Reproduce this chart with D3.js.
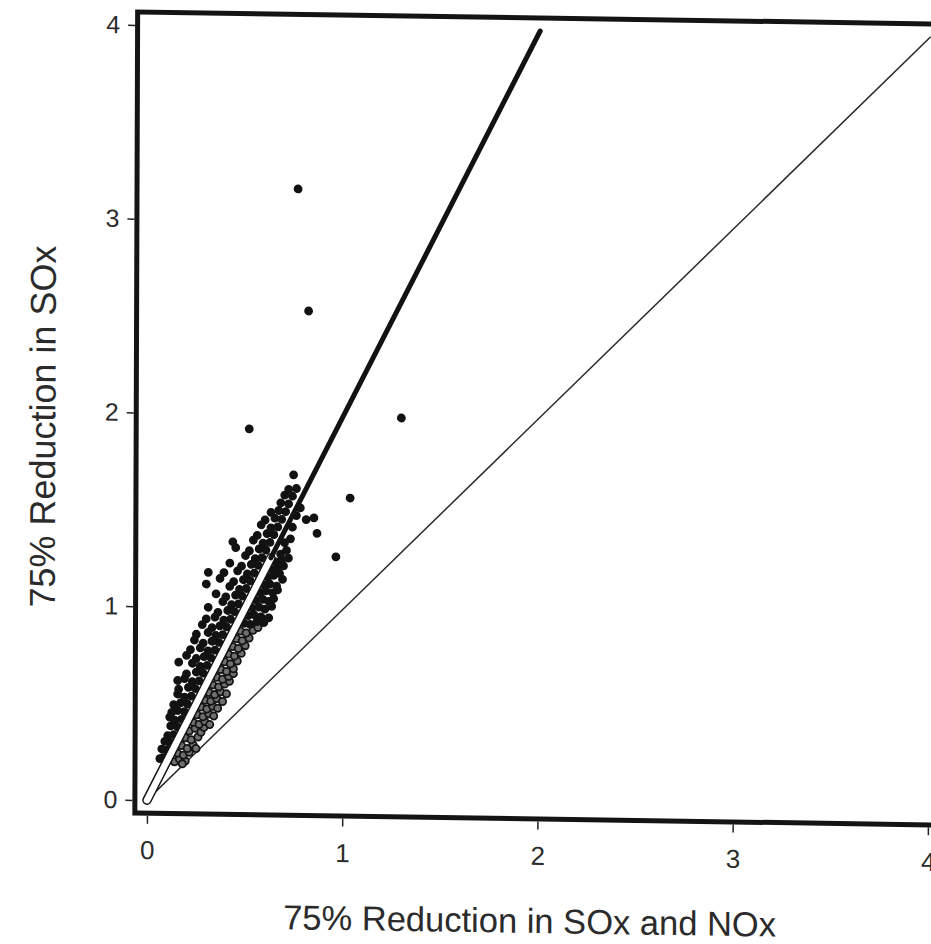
<!DOCTYPE html>
<html>
<head>
<meta charset="utf-8">
<script src="https://cdn.jsdelivr.net/npm/d3@7"></script>
<style>
  html, body { margin: 0; padding: 0; background: #fff; }
  svg { display: block; }
  text { font-family: "Liberation Sans", Arial, Helvetica, sans-serif; fill: #2b2b2b; }
</style>
</head>
<body>
<svg id="chart" width="931" height="944"></svg>
<script>
// Axis ticks
const xTicks = [0, 1, 2, 3, 4];
const yTicks = [0, 1, 2, 3, 4];
const xTitle = "75% Reduction in SOx and NOx";
const yTitle = "75% Reduction in SOx";

// Reference lines: ratio-2 fit and 1:1 parity
const fitLine = [[0, 0], [2, 4]];
const parityLine = [[0, 0], [4, 4]];
// cleared lane along the lower part of the fit line
const fitLane = [[0, 0], [0.63, 1.26]];

// Sites below the fit line, low range (open markers)
const openSites = [
  [0.14,0.20],[0.165,0.215],[0.195,0.205],[0.18,0.19],
  [0.155,0.245],[0.185,0.235],[0.215,0.25],
  [0.175,0.285],[0.205,0.27],[0.235,0.29],[0.25,0.27],
  [0.195,0.325],[0.225,0.315],[0.26,0.33],
  [0.215,0.36],[0.245,0.375],[0.275,0.355],[0.29,0.38],
  [0.235,0.405],[0.265,0.395],[0.295,0.41],[0.32,0.395],
  [0.255,0.445],[0.285,0.435],[0.315,0.45],[0.34,0.44],
  [0.275,0.485],[0.305,0.475],[0.335,0.49],[0.36,0.48],
  [0.295,0.52],[0.325,0.515],[0.355,0.53],[0.385,0.515],
  [0.315,0.56],[0.345,0.55],[0.375,0.565],[0.405,0.555],
  [0.335,0.6],[0.365,0.59],[0.395,0.605],[0.42,0.62],
  [0.355,0.64],[0.385,0.63],[0.415,0.645],[0.44,0.66],
  [0.375,0.68],[0.405,0.67],[0.44,0.685],
  [0.395,0.72],[0.425,0.71],[0.46,0.725],
  [0.415,0.76],[0.445,0.75],[0.48,0.765],
  [0.435,0.8],[0.465,0.79],[0.5,0.805],
  [0.455,0.84],[0.485,0.83],[0.52,0.845],
  [0.475,0.88],[0.505,0.87],[0.54,0.885],[0.565,0.9]
];

// Sites below the fit line, upper range (filled markers)
const lowerSites = [
  [0.495,0.92],[0.525,0.915],[0.56,0.93],[0.595,0.925],
  [0.515,0.96],[0.545,0.965],[0.58,0.955],[0.62,0.95],
  [0.535,1.0],[0.57,1.005],[0.6,0.995],[0.635,1.01],
  [0.555,1.04],[0.59,1.045],[0.62,1.035],[0.645,1.05],
  [0.575,1.08],[0.605,1.09],[0.64,1.08],[0.665,1.095],
  [0.595,1.12],[0.625,1.125],[0.66,1.115],[0.69,1.15],
  [0.615,1.16],[0.645,1.17],[0.675,1.18],
  [0.635,1.2],[0.665,1.21],[0.695,1.22],
  [0.655,1.24],[0.685,1.25],[0.72,1.26],
  [0.68,1.28],[0.71,1.3],[0.7,1.34],[0.73,1.36],
  [0.74,1.42],[0.76,1.48],[0.78,1.52]
];

// Sites above the fit line (filled markers)
const upperSites = [
  [0.08,0.22],[0.065,0.215],
  [0.1,0.26],[0.075,0.265],
  [0.115,0.3],[0.09,0.305],
  [0.135,0.34],[0.105,0.335],
  [0.155,0.38],[0.12,0.385],
  [0.175,0.42],[0.14,0.415],[0.115,0.43],
  [0.19,0.46],[0.155,0.465],[0.125,0.455],
  [0.205,0.5],[0.17,0.505],[0.135,0.495],
  [0.225,0.54],[0.19,0.535],[0.155,0.55],
  [0.245,0.58],[0.21,0.585],[0.16,0.575],
  [0.265,0.62],[0.23,0.615],[0.19,0.63],[0.155,0.62],
  [0.285,0.66],[0.25,0.665],[0.2,0.655],
  [0.305,0.7],[0.27,0.695],[0.23,0.71],[0.16,0.715],
  [0.325,0.74],[0.29,0.745],[0.25,0.735],[0.2,0.75],
  [0.345,0.78],[0.31,0.775],[0.27,0.79],[0.22,0.78],
  [0.365,0.82],[0.33,0.825],[0.285,0.815],[0.24,0.83],
  [0.385,0.86],[0.35,0.855],[0.31,0.87],[0.25,0.86],
  [0.405,0.9],[0.37,0.905],[0.33,0.895],[0.28,0.91],
  [0.425,0.94],[0.39,0.935],[0.345,0.95],[0.3,0.94],
  [0.445,0.98],[0.41,0.985],[0.36,0.975],
  [0.465,1.02],[0.43,1.015],[0.385,1.03],[0.31,1.0],
  [0.485,1.06],[0.45,1.065],[0.4,1.055],[0.35,1.07],
  [0.505,1.1],[0.47,1.095],[0.42,1.11],
  [0.525,1.14],[0.49,1.145],[0.44,1.135],[0.37,1.15],[0.3,1.12],
  [0.545,1.18],[0.51,1.175],[0.46,1.19],[0.39,1.18],[0.31,1.18],
  [0.565,1.22],[0.53,1.225],[0.48,1.215],[0.42,1.23],
  [0.585,1.26],[0.55,1.255],[0.5,1.27],
  [0.605,1.3],[0.57,1.305],[0.52,1.295],[0.45,1.31],
  [0.625,1.34],[0.59,1.335],[0.54,1.35],[0.435,1.34],
  [0.645,1.38],[0.61,1.385],[0.56,1.375],
  [0.665,1.42],[0.63,1.415],[0.58,1.43],
  [0.685,1.46],[0.65,1.465],[0.6,1.455],
  [0.705,1.5],[0.67,1.505],[0.63,1.495],
  [0.72,1.54],[0.68,1.545],
  [0.74,1.58],[0.7,1.585],
  [0.76,1.62],[0.72,1.615],
  [0.745,1.69]
];

// Isolated sites away from the main band
const outlierSites = [
  [0.763,3.166],[0.819,2.537],[0.517,1.924],[1.296,1.992],
  [1.035,1.575],[0.963,1.27],[0.81,1.46],[0.85,1.47],[0.866,1.39]
];

const svg = d3.select("#chart");

const x = d3.scaleLinear().domain([0, 4]).range([147, 928]);
const y = d3.scaleLinear().domain([0, 4]).range([800, 25]);

// plot frame bounds (data units)
const frameX = [-0.062, 4.07];
const frameY = [-0.067, 4.067];

// the printed page sits slightly skewed
const root = svg.append("g")
  .attr("transform",
    "translate(0,800) skewX(-0.2) translate(0,-800) translate(137,0) skewY(0.86) translate(-137,0)");

const clipId = "plotclip";
root.append("clipPath").attr("id", clipId)
  .append("rect")
  .attr("x", x(frameX[0])).attr("y", y(frameY[1]))
  .attr("width", x(frameX[1]) - x(frameX[0]))
  .attr("height", y(frameY[0]) - y(frameY[1]));

const plot = root.append("g").attr("clip-path", `url(#${clipId})`);

const line = d3.line().x(d => x(d[0])).y(d => y(d[1]));

// 1:1 parity line
plot.append("path")
  .attr("d", line(parityLine))
  .attr("fill", "none")
  .attr("stroke", "#2a2a2a")
  .attr("stroke-width", 1.5);

const R = 4.4;

// open markers
plot.append("g").selectAll("circle")
  .data(openSites)
  .join("circle")
  .attr("cx", d => x(d[0]))
  .attr("cy", d => y(d[1]))
  .attr("r", R - 0.8)
  .attr("fill", "#6f6f6f")
  .attr("stroke", "#141414")
  .attr("stroke-width", 1.8);

// filled markers
plot.append("g").selectAll("circle")
  .data(lowerSites.concat(upperSites, outlierSites))
  .join("circle")
  .attr("cx", d => x(d[0]))
  .attr("cy", d => y(d[1]))
  .attr("r", R)
  .attr("fill", "#121212");

// cleared lane along the fit line near the origin
plot.append("path")
  .attr("d", line(fitLane))
  .attr("fill", "none")
  .attr("stroke", "#141414")
  .attr("stroke-width", 9.5)
  .attr("stroke-linecap", "round");
plot.append("path")
  .attr("d", line(fitLane))
  .attr("fill", "none")
  .attr("stroke", "#fff")
  .attr("stroke-width", 6.5)
  .attr("stroke-linecap", "round");

// ratio-2 fit line (solid above the lane)
plot.append("path")
  .attr("d", line([fitLane[1], fitLine[1]]))
  .attr("fill", "none")
  .attr("stroke", "#121212")
  .attr("stroke-width", 5)
  .attr("stroke-linecap", "round");

// frame
root.append("rect")
  .attr("x", x(frameX[0])).attr("y", y(frameY[1]))
  .attr("width", x(frameX[1]) - x(frameX[0]))
  .attr("height", y(frameY[0]) - y(frameY[1]))
  .attr("fill", "none")
  .attr("stroke", "#141414")
  .attr("stroke-width", 5);

// x axis
const xAxis = root.append("g")
  .attr("transform", `translate(0,${y(frameY[0]) + 2.5})`)
  .call(d3.axisBottom(x).tickValues(xTicks).tickSize(8).tickPadding(17).tickFormat(d3.format("d")));
xAxis.select(".domain").remove();
xAxis.selectAll(".tick line").attr("stroke", "#222").attr("stroke-width", 1.5);
xAxis.selectAll(".tick text").attr("font-size", 26).attr("fill", "#2b2b2b")
  .attr("font-family", "\"Liberation Sans\", Arial, sans-serif");

// y axis
const yAxis = root.append("g")
  .attr("transform", `translate(${x(frameX[0]) - 2.5},0)`)
  .call(d3.axisLeft(y).tickValues(yTicks).tickSize(7).tickPadding(8).tickFormat(d3.format("d")));
yAxis.select(".domain").remove();
yAxis.selectAll(".tick line").attr("stroke", "#222").attr("stroke-width", 1.5);
yAxis.selectAll(".tick text").attr("font-size", 25).attr("fill", "#2b2b2b")
  .attr("font-family", "\"Liberation Sans\", Arial, sans-serif");

// titles
root.append("text")
  .attr("x", 530).attr("y", 927)
  .attr("text-anchor", "middle")
  .attr("font-size", 34.5)
  .text(xTitle);

root.append("text")
  .attr("transform", "translate(54,428) rotate(-90)")
  .attr("text-anchor", "middle")
  .attr("font-size", 36)
  .text(yTitle);
</script>
</body>
</html>
